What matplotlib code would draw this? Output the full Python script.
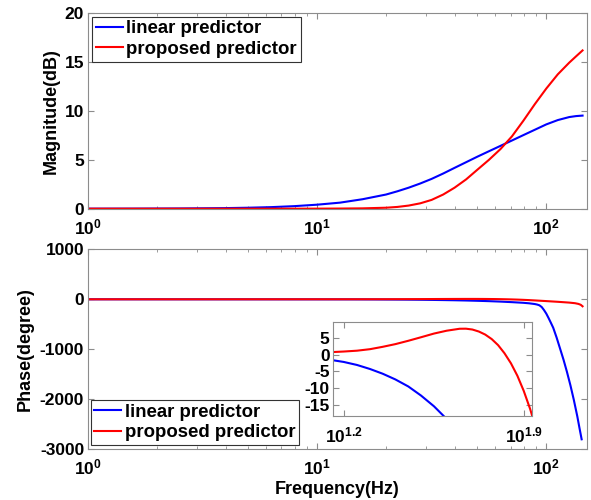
import numpy as np
import matplotlib
matplotlib.use('Agg')
import matplotlib.pyplot as plt
from matplotlib.ticker import FixedLocator, FuncFormatter, NullFormatter, LogLocator, NullLocator

plt.rcParams['font.family'] = ['Liberation Sans', 'DejaVu Sans']
plt.rcParams['font.weight'] = 'bold'
plt.rcParams['axes.unicode_minus'] = False
plt.rcParams['mathtext.fontset'] = 'custom'
plt.rcParams['mathtext.rm'] = 'Liberation Sans:bold'
plt.rcParams['mathtext.bf'] = 'Liberation Sans:bold'
plt.rcParams['mathtext.it'] = 'Liberation Sans:bold'

# ---------------- data ----------------
series_names = ['linear predictor', 'proposed predictor']

# magnitude (dB) vs frequency (Hz)
freq_mag = [1, 1.58, 2.51, 3.98, 5.01, 6.31, 7.94, 10, 12.6, 15.8, 20.0, 22.4, 25.1,
            28.2, 31.6, 35.5, 39.8, 44.7, 50.1, 56.2, 63.1, 70.8, 79.4, 89.1, 100,
            112.2, 125.9, 134.9, 143.9]
mag_linear = [0.004, 0.01, 0.025, 0.06, 0.1, 0.16, 0.26, 0.41, 0.62, 0.97, 1.45, 1.78,
              2.15, 2.58, 3.05, 3.6, 4.18, 4.76, 5.33, 5.88, 6.43, 6.98, 7.53, 8.08,
              8.63, 9.07, 9.38, 9.48, 9.53]
mag_proposed = [0, 0, 0, 0, 0, 0, 0.002, 0.005, 0.015, 0.035, 0.1, 0.18, 0.32, 0.55,
                0.9, 1.45, 2.15, 3.0, 4.0, 5.0, 6.1, 7.4, 9.0, 10.7, 12.3, 13.75,
                14.95, 15.6, 16.2]

# phase (degree) vs frequency (Hz)
freq_ph_linear = [1, 1.78, 3.16, 5.62, 10, 14.1, 15.8, 17.8, 20.0, 22.4, 25.1, 28.2,
                  31.6, 35.5, 39.8, 44.7, 50.1, 56.2, 63.1, 70.8, 79.4, 84.1, 89.1,
                  91.2, 93.3, 95.5, 97.7, 100, 102.3, 104.7, 107.2, 110.9, 114.8,
                  118.9, 123.0, 127.4, 131.8, 136.5, 139.6, 142.6]
ph_linear = [-0.05, -0.15, -0.35, -0.65, -1.1, -1.6, -2.2, -3.1, -4.3, -5.7, -7.4,
             -9.5, -12.2, -15.4, -19.2, -24, -30, -37, -46, -57, -70, -80, -95, -105,
             -120, -155, -215, -287, -375, -470, -570, -765, -985, -1210, -1450,
             -1720, -2010, -2340, -2580, -2800]

freq_ph_proposed = [1, 1.78, 3.16, 5.62, 10, 14.1, 15.8, 17.8, 20.0, 22.4, 25.1, 28.2,
                    31.6, 35.5, 39.8, 44.7, 47.3, 50.1, 53.1, 56.2, 59.6, 63.1, 66.8,
                    70.8, 75.0, 79.4, 84.1, 89.1, 100, 112.2, 125.9, 133.4, 138.0,
                    141.3, 143.9]
ph_proposed = [0, 0.03, 0.12, 0.3, 0.52, 0.72, 0.9, 1.15, 1.6, 2.3, 3.1, 4.1, 5.15,
               6.25, 7.1, 7.68, 7.7, 7.45, 6.85, 5.95, 4.6, 2.8, 0.4, -2.6, -6.3,
               -10.8, -16.2, -22.6, -36, -50, -66, -78, -92, -110, -140]

mag_ticks = [0, 5, 10, 15, 20]
ph_ticks = [-3000, -2000, -1000, 0, 1000]
inset_yticks = [-15, -10, -5, 0, 5]
inset_xtick_exp = [1.2, 1.9]

colors = ['#0000ff', '#ff0000']
# --------------------------------------

FS_TICK = 12.5
FS_LAB = 13
FS_LEG = 13.4
GRAY = '#8c8c8c'

fig = plt.figure(figsize=(5.91, 5.0), dpi=100)
ax1 = fig.add_axes([0.1484, 0.5826, 0.8443, 0.3908])
ax2 = fig.add_axes([0.1484, 0.1014, 0.8443, 0.4])
ins = fig.add_axes([0.5635, 0.1686, 0.3362, 0.1868])


def style(ax, xpad=6):
    for s in ax.spines.values():
        s.set_color(GRAY)
        s.set_linewidth(0.8)
    ax.tick_params(which='both', direction='in', top=True, right=True,
                   color=GRAY, labelsize=FS_TICK, labelcolor='black')
    ax.tick_params(axis='y', pad=2.5)
    ax.tick_params(axis='x', pad=xpad)
    ax.tick_params(which='major', length=4)
    ax.tick_params(which='minor', length=2.5)


def logfmt(v, p):
    e = int(round(np.log10(v)))
    return r'$\mathbf{10^{%d}}$' % e


for ax in (ax1, ax2):
    ax.set_xscale('log')
    ax.set_xlim(1, 150)
    ax.xaxis.set_major_locator(FixedLocator([1, 10, 100]))
    ax.xaxis.set_major_formatter(FuncFormatter(logfmt))
    ax.xaxis.set_minor_locator(LogLocator(base=10, subs=np.arange(2, 10), numticks=20))
    ax.xaxis.set_minor_formatter(NullFormatter())
    style(ax)

leg_kw = dict(borderaxespad=0, fontsize=FS_LEG, frameon=True, fancybox=False,
              framealpha=1, edgecolor='#333333', handlelength=1.45,
              handletextpad=0.18, borderpad=0.2, labelspacing=0.18)

# magnitude
ax1.plot(freq_mag, mag_linear, color=colors[0], lw=1.5, label=series_names[0])
ax1.plot(freq_mag, mag_proposed, color=colors[1], lw=1.5, label=series_names[1])
ax1.set_ylim(0, 20)
ax1.set_yticks(mag_ticks)
ax1.set_ylabel('Magnitude(dB)', fontsize=FS_LAB, fontweight='bold')
ax1.yaxis.set_label_coords(-0.0555, 0.5)
leg1 = ax1.legend(loc='upper left', bbox_to_anchor=(0.0092, 0.9826), **leg_kw)
leg1.get_frame().set_linewidth(0.8)

# phase
ax2.plot(freq_ph_linear, ph_linear, color=colors[0], lw=1.5, label=series_names[0])
ax2.plot(freq_ph_proposed, ph_proposed, color=colors[1], lw=1.5, label=series_names[1])
ax2.set_ylim(-3000, 1000)
ax2.set_yticks(ph_ticks)
ax2.set_ylabel('Phase(degree)', fontsize=FS_LAB, fontweight='bold')
ax2.yaxis.set_label_coords(-0.109, 0.5)
ax2.set_xlabel('Frequency(Hz)', fontsize=FS_LAB, fontweight='bold')
ax2.xaxis.set_label_coords(0.5, -0.16)
leg2 = ax2.legend(loc='lower left', bbox_to_anchor=(0.006, 0.0215), **leg_kw)
leg2.get_frame().set_linewidth(0.8)

# inset
ins.plot(freq_ph_linear, ph_linear, color=colors[0], lw=1.5)
ins.plot(freq_ph_proposed, ph_proposed, color=colors[1], lw=1.5)
ins.set_xscale('log')
ins.set_xlim(10 ** 1.157, 10 ** 1.931)
ins.set_ylim(-18.2, 9.6)
ins.xaxis.set_major_locator(FixedLocator([10 ** e for e in inset_xtick_exp]))
ins.xaxis.set_major_formatter(FuncFormatter(
    lambda v, p: r'$\mathbf{10^{%.1f}}$' % np.log10(v)))
ins.xaxis.set_minor_locator(NullLocator())
ins.set_yticks(inset_yticks)
style(ins, xpad=7)

fig.savefig('out.png', dpi=100)
